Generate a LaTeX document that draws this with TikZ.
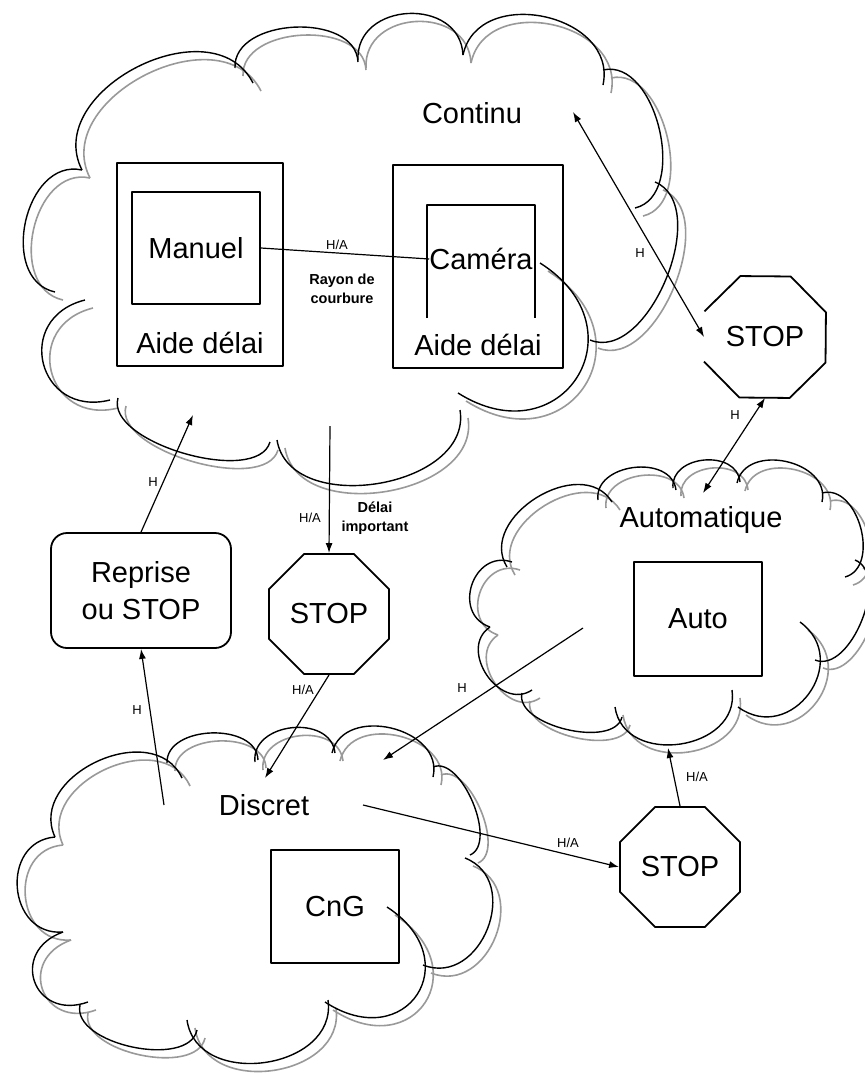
\documentclass[tikz,border=0pt]{standalone}
\usepackage{fontspec}
\setmainfont{Liberation Sans}
\usetikzlibrary{arrows.meta,positioning,shapes.geometric}

\begin{document}
\begin{tikzpicture}[x=1pt,y=-1pt,line join=round,>={Latex[length=10pt,width=7pt]},
  bigtext/.style={font=\fontsize{29}{37}\selectfont,inner sep=0pt},
  lab/.style={font=\fontsize{13}{15}\selectfont,inner sep=0pt},
  boldlab/.style={font=\fontsize{14.5}{18.5}\selectfont\bfseries,inner sep=0pt,align=center},
  modebox/.style={draw,line width=1.8pt,inner sep=0pt},
  stopsign/.style={regular polygon,regular polygon sides=8,minimum size=130pt,inner sep=0pt,
    line width=1.8pt,font=\fontsize{29}{31}\selectfont},
  link/.style={line width=1.2pt,->},
  cloudline/.style={line width=1.4pt},
  cloudshade/.style={line width=1.6pt,black!40,shift={(8,8)}}]
\useasboundingbox (0,0) rectangle (865,1074);
% clouds: one bump = start/end/looseness, shadow first
\def\continubumps{55/292/82/170/1.2, 82/170/253/83/1.19, 235/68/358/62/1.05,
  358/60/463/55/1.43, 463/55/603/85/1.3, 603/70/635/208/1.0, 655/182/590/340/0.94,
  540/263/458/393/2.05, 460/410/277/440/1.09, 270/442/118/398/0.75, 110/400/85/300/1.85}
\def\autobumps{490/627/512/562/1.53, 507/567/612/502/1.2, 598/500/676/490/1.2,
  673/488/740/482/1.27, 737/483/822/502/1.24, 822/493/845/577/1.1, 855/560/815/660/0.91,
  800/622/738/707/1.6, 732/690/615/707/1.33, 622/717/522/693/0.83, 532/690/490/627/1.32}
\def\discretbumps{63/932/55/837/1.5, 55/837/182/778/1.24, 167/763/258/760/1.07,
  255/762/335/753/1.27, 332/753/433/777/1.25, 433/767/470/855/0.82, 465/858/423/965/1.39,
  387/907/325/1002/2.2, 328/1000/187/1020/1.27, 197/1030/80/1005/0.86, 88/1002/63/932/2.0}
\foreach \xa/\ya/\xb/\yb/\lo in \continubumps {\draw[cloudshade] (\xa,\ya) to[bend left=90,looseness=\lo] (\xb,\yb);}
\foreach \xa/\ya/\xb/\yb/\lo in \autobumps {\draw[cloudshade] (\xa,\ya) to[bend left=90,looseness=\lo] (\xb,\yb);}
\foreach \xa/\ya/\xb/\yb/\lo in \discretbumps {\draw[cloudshade] (\xa,\ya) to[bend left=90,looseness=\lo] (\xb,\yb);}
\foreach \xa/\ya/\xb/\yb/\lo in \continubumps {\draw[cloudline] (\xa,\ya) to[bend left=90,looseness=\lo] (\xb,\yb);}
\foreach \xa/\ya/\xb/\yb/\lo in \autobumps {\draw[cloudline] (\xa,\ya) to[bend left=90,looseness=\lo] (\xb,\yb);}
\foreach \xa/\ya/\xb/\yb/\lo in \discretbumps {\draw[cloudline] (\xa,\ya) to[bend left=90,looseness=\lo] (\xb,\yb);}

% Continu
\node[bigtext] (continu) at (472,113) {Continu};
\node[modebox,minimum width=166pt,minimum height=203pt] (boxG) at (200,264.5) {};
\node[modebox,bigtext,minimum width=128pt,minimum height=112pt] (manuel) at (196,248) {Manuel};
\node[bigtext] (aideG) at (200,343) {Aide délai};
\node[modebox,minimum width=170pt,minimum height=203pt] (boxD) at (478,266.5) {};
\node[minimum width=108pt,minimum height=113pt,inner sep=0pt] (camframe) at (481,261.5) {};
\draw[line width=1.8pt] (camframe.south west) |- (camframe.north east) -- (camframe.south east);
\node[bigtext] (camera) at (481,259) {Caméra};
\node[bigtext] (aideD) at (478,345) {Aide délai};
\draw[line width=1.2pt] (manuel.east) -- (camera.west);
\node[lab] (haMC) at (337,245) {H/A};
\node[boldlab] (rayon) at (342,289) {Rayon de\\courbure};

% stop signs, the right one open on its left side
\node[stopsign] (stopC) at (765,337) {STOP};
\draw[line width=1.8pt] (stopC.202.5) -- (stopC.247.5) -- (stopC.292.5) -- (stopC.337.5)
  -- (stopC.22.5) -- (stopC.67.5) -- (stopC.112.5) -- (stopC.157.5);
\node[stopsign,draw] (stopD) at (329,614) {STOP};
\node[stopsign,draw] (stopA) at (680,867) {STOP};
\node[modebox,bigtext,rounded corners=16pt,minimum width=180pt,minimum height=115pt,align=center]
  (reprise) at (141,590.5) {Reprise\\ou STOP};

% Automatique, Discret
\node[bigtext] (automatique) at (701,520) {Automatique};
\node[modebox,bigtext,minimum width=128pt,minimum height=114pt] (auto) at (698,619) {Auto};
\node[bigtext] (discret) at (264,805) {Discret};
\node[modebox,bigtext,minimum width=128pt,minimum height=113pt] (cng) at (335,906.5) {CnG};

% free ends inside the clouds
\coordinate (cC) at (573,112);
\coordinate (cAutoT) at (703,493);
\coordinate (cContB) at (330,426);
\coordinate (cDiscT) at (265,778);
\coordinate (cAutoL) at (583,628);
\coordinate (cDiscM) at (383,760);
\coordinate (cDiscR) at (363,805);
\coordinate (cAutoB) at (668,748);
\coordinate (cDiscL) at (164,805);
\coordinate (cContL) at (193,415);

\draw[link,<->] (cC) -- (stopC.west);
\draw[link,<->] (stopC.south) -- (cAutoT);
\draw[link] (cContB) -- (stopD.north);
\draw[link] (stopD.south) -- (cDiscT);
\draw[link] (cAutoL) -- (cDiscM);
\draw[link] (cDiscR) -- (stopA.west);
\draw[link] (stopA.north) -- (cAutoB);
\draw[link] (cDiscL) -- (reprise.south);
\draw[link] (reprise.north) -- (cContL);

\node[lab] (hC) at (640,253) {H};
\node[lab] (hCA) at (735,415) {H};
\node[lab] (haD) at (310,518) {H/A};
\node[boldlab] (delai) at (375,518) {Délai\\important};
\node[lab] (haDD) at (303,690) {H/A};
\node[lab] (hAD) at (462,688) {H};
\node[lab] (haDA) at (568,843) {H/A};
\node[lab] (haAA) at (697,777) {H/A};
\node[lab] (hDR) at (137,710) {H};
\node[lab] (hRC) at (153,482) {H};
\end{tikzpicture}
\end{document}
